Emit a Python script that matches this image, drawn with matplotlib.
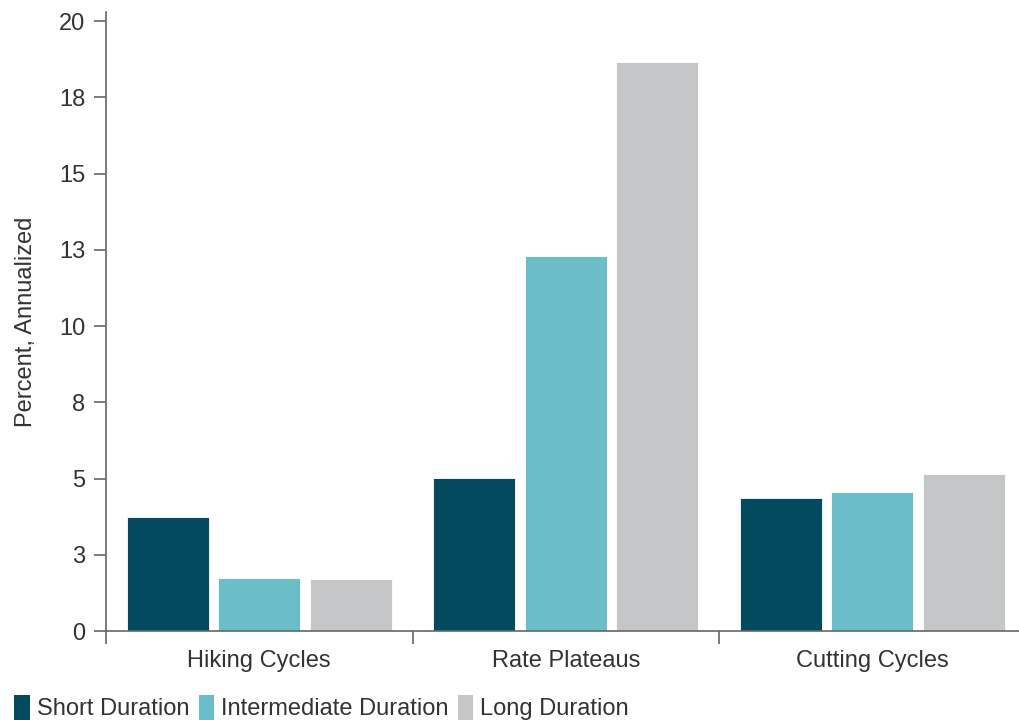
import numpy as np
import matplotlib
matplotlib.use("Agg")
import matplotlib.pyplot as plt
from matplotlib.patches import Patch
from matplotlib.ticker import FuncFormatter, FixedLocator

plt.rcParams["font.family"] = ["Liberation Sans", "DejaVu Sans"]

categories = ["Hiking Cycles", "Rate Plateaus", "Cutting Cycles"]
series_names = ["Short Duration", "Intermediate Duration", "Long Duration"]
short_vals = [3.74, 5.02, 4.36]
inter_vals = [1.74, 12.30, 4.56]
long_vals = [1.70, 18.66, 5.15]
y_ticks = [0, 2.5, 5, 7.5, 10, 12.5, 15, 17.5, 20]

COLORS = ["#034A5E", "#6BBDC8", "#C5C6C8"]
TEXT = "#333333"
AXIS = "#666666"
FS = 17

fig = plt.figure(figsize=(10.19, 7.2), dpi=100)
ax = fig.add_axes([106 / 1019, 89 / 720, 913 / 1019, 619 / 720])

x = np.arange(len(categories))
width = 0.268
step = 0.298
for i, (vals, col) in enumerate(zip([short_vals, inter_vals, long_vals], COLORS)):
    ax.bar(x + (i - 1) * step, vals, width=width, color=col,
           edgecolor="white", linewidth=0.6, zorder=2)

ax.set_xlim(-0.5, -0.5 + 913 / 306.5)
ax.set_ylim(0, 20.3)

ax.yaxis.set_major_locator(FixedLocator(y_ticks))
ax.yaxis.set_major_formatter(FuncFormatter(lambda v, p: f"{int(np.floor(v + 0.5))}"))
ax.set_xticks([-0.5, 0.5, 1.5])
ax.set_xticklabels([])
ax.set_xticks(x, minor=True)
ax.set_xticklabels(categories, minor=True)
ax.tick_params(axis="x", which="major", length=9, width=1.2, color=AXIS, direction="out")
ax.tick_params(axis="x", which="minor", length=0, pad=14, labelsize=FS, labelcolor=TEXT)
ax.tick_params(axis="y", length=9, width=1.2, color=AXIS, direction="out",
               labelsize=FS, labelcolor=TEXT, pad=6)

for s in ["top", "right"]:
    ax.spines[s].set_visible(False)
for s in ["left", "bottom"]:
    ax.spines[s].set_color(AXIS)
    ax.spines[s].set_linewidth(1.2)

ax.set_ylabel("Percent, Annualized", fontsize=FS, color=TEXT, labelpad=16)

handles = [Patch(facecolor=c, edgecolor="none") for c in COLORS]
fig.legend(handles, series_names, loc="lower left", bbox_to_anchor=(0.0, -0.02),
           ncol=3, frameon=False, fontsize=FS, labelcolor=TEXT,
           handlelength=0.65, handleheight=1.25, handletextpad=0.3,
           columnspacing=0.4, borderaxespad=0.2)

fig.savefig("out.png", dpi=100)
